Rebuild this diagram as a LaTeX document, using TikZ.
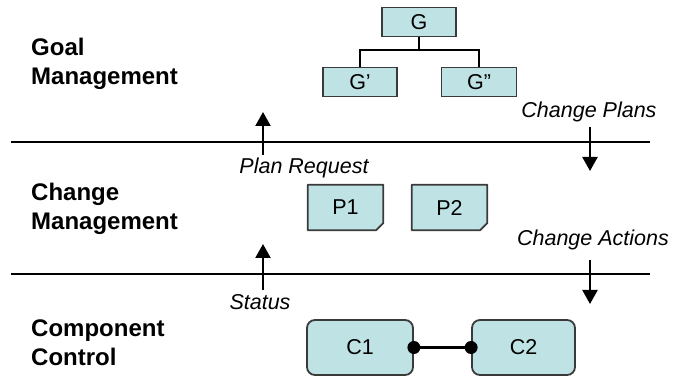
\documentclass[tikz,border=0pt]{standalone}
\usepackage{fontspec}
\setmainfont{Liberation Sans}
\usetikzlibrary{arrows.meta}
\definecolor{boxfill}{HTML}{BFE2E4}
\definecolor{boxline}{HTML}{3A3A3A}
\tikzset{
  x=1pt, y=-1pt,
  layerlabel/.style={anchor=west, inner sep=0pt, align=left, font=\fontsize{24}{29}\selectfont\bfseries},
  flowlabel/.style={inner sep=0pt, font=\fontsize{21.5}{24}\selectfont\itshape},
  goalbox/.style={draw=boxline, line width=1.8pt, fill=boxfill, minimum height=29pt, minimum width=74pt, inner sep=0pt, font=\fontsize{21.5}{24}\selectfont},
  compbox/.style={draw=boxline, line width=1.8pt, fill=boxfill, rounded corners=8pt, minimum height=55pt, inner sep=0pt, font=\fontsize{21.5}{24}\selectfont},
  note/.style={inner sep=0pt, minimum width=75pt, minimum height=45pt, font=\fontsize{21.5}{24}\selectfont},
  divider/.style={line width=2.2pt},
  flowarrow/.style={line width=2.2pt, -{Triangle[length=14pt, width=15pt]}},
  treeline/.style={line width=1.8pt},
  joint/.style={circle, fill=black, inner sep=0pt, minimum size=13pt},
  linkline/.style={line width=2.2pt}
}
\begin{document}
\begin{tikzpicture}
\useasboundingbox (0,0) rectangle (686,379);

% layer labels
\node[layerlabel] (lgoal) at (31,64) {Goal\\Management};
\node[layerlabel] (lchange) at (31,209) {Change\\Management};
\node[layerlabel] (lcomp) at (31,343) {Component\\Control};

% dividers
\coordinate (d1a) at (11,142);
\coordinate (d1b) at (650,142);
\coordinate (d2a) at (11,274);
\coordinate (d2b) at (650,274);
\draw[divider] (d1a) -- (d1b);
\draw[divider] (d2a) -- (d2b);

% goal tree
\node[goalbox] (G) at (419,22) {G};
\node[goalbox] (G1) at (360,82) {G’};
\node[goalbox, minimum width=75pt] (G2) at (479,82) {G”};
\coordinate (gj) at (419,50);
\draw[treeline] (G.south) -- (gj);
\draw[treeline] (G1.north) |- (gj) -| (G2.north);

% plans (notes with folded corner)
\node[note] (P1) at (345.5,207.5) {};
\node[note] (P2) at (449.5,207.5) {};
\foreach \p in {P1,P2}{
  \fill[boxfill] (\p.north west) -- (\p.north east) -- ([yshift=7pt]\p.south east) -- ([xshift=-7pt]\p.south east) -- (\p.south west) -- cycle;
  \fill[boxline] ([yshift=7pt]\p.south east) .. controls ([xshift=-3pt,yshift=4pt]\p.south east) .. ([xshift=-7pt]\p.south east) -- ([xshift=-4pt,yshift=4pt]\p.south east) -- cycle;
  \draw[boxline, line width=1.8pt, line join=round] (\p.north west) -- (\p.north east) -- ([yshift=7pt]\p.south east) -- ([xshift=-7pt]\p.south east) -- (\p.south west) -- cycle;
}
\node[font=\fontsize{21.5}{24}\selectfont] (P1t) at (P1) {P1};
\node[font=\fontsize{21.5}{24}\selectfont] (P2t) at (P2) {P2};

% components
\node[compbox, minimum width=106pt] (C1) at (360,347.5) {C1};
\node[compbox, minimum width=103pt] (C2) at (523.5,347.5) {C2};
\draw[linkline] (C1.east) -- (C2.west);
\node[joint] (j1) at (C1.east) {};
\node[joint] (j2) at (C2.west) {};

% flows
\coordinate (pr0) at (263,155);
\coordinate (pr1) at (263,112);
\draw[flowarrow] (pr0) -- (pr1);
\node[flowlabel] (prl) at (304,168) {Plan Request};

\coordinate (st0) at (263,290);
\coordinate (st1) at (263,244);
\draw[flowarrow] (st0) -- (st1);
\node[flowlabel] (stl) at (260,302) {Status};

\coordinate (cp0) at (590,127);
\coordinate (cp1) at (590,171);
\draw[flowarrow] (cp0) -- (cp1);
\node[flowlabel] (cpl) at (589,112) {Change Plans};

\coordinate (ca0) at (590,260);
\coordinate (ca1) at (590,304);
\draw[flowarrow] (ca0) -- (ca1);
\node[flowlabel] (cal) at (593,240) {Change Actions};
\end{tikzpicture}
\end{document}
